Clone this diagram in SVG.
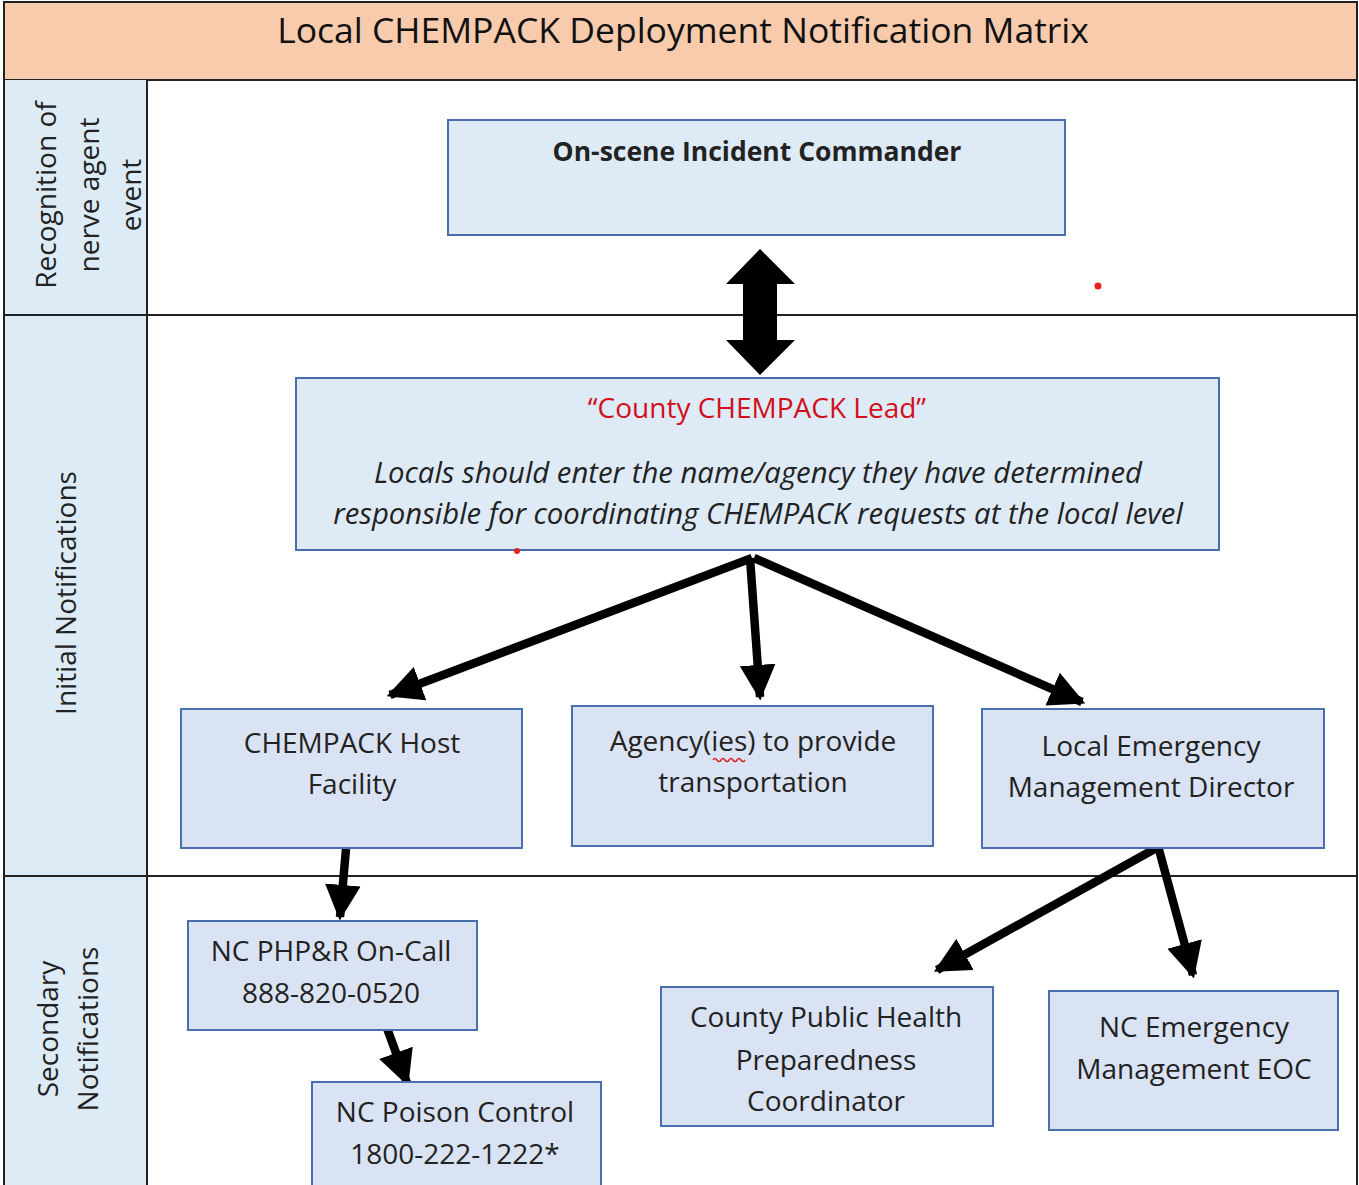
<svg xmlns="http://www.w3.org/2000/svg" width="1359" height="1185" viewBox="0 0 1359 1185">
<defs>
<style>
.t{font-family:"Open Sans","Noto Sans",Arial,sans-serif;font-size:28px;fill:#222;text-anchor:middle}
.lab{font-family:"Open Sans","Noto Sans",Arial,sans-serif;font-size:28px;fill:#222;text-anchor:middle}
.box{fill:#DAE3F3;stroke:#4A6FAE;stroke-width:2}
.boxl{fill:#DEEBF7;stroke:#4A6FAE;stroke-width:2}
.grid{stroke:#222;stroke-width:2;fill:none}
.arr{stroke:#000;stroke-width:8.5;fill:none;marker-end:url(#ah)}
</style>
<marker id="ah" viewBox="0 0 10 10" refX="9" refY="5" markerWidth="4.2" markerHeight="4.4" markerUnits="strokeWidth" orient="auto">
<path d="M0,0 L10,5 L0,10 Z" fill="#000"/>
</marker>
</defs>
<rect x="0" y="0" width="1359" height="1185" fill="#fff"/>
<g id="header">
<rect x="4" y="2" width="1353" height="78" fill="#F8CBAD" stroke="#222" stroke-width="2"/>
<text x="683" y="43" font-family="Open Sans,Noto Sans,Arial,sans-serif" font-size="35.5" fill="#111" text-anchor="middle">Local CHEMPACK Deployment Notification Matrix</text>
</g>
<g id="lanes">
<rect x="4" y="80" width="143" height="1105" fill="#DDEBF7"/>
<rect x="4" y="2" width="1353" height="1190" class="grid"/>
<line x1="147" y1="80" x2="147" y2="1185" class="grid"/>
<line x1="4" y1="315" x2="1357" y2="315" class="grid"/>
<line x1="4" y1="876" x2="1357" y2="876" class="grid"/>
</g>
<g id="lane-recognition">
<text class="lab" transform="translate(56,195) rotate(-90)">Recognition of</text>
<text class="lab" transform="translate(99,195) rotate(-90)">nerve agent</text>
<text class="lab" transform="translate(141,195) rotate(-90)">event</text>
</g>
<g id="lane-initial">
<text class="lab" transform="translate(76,593) rotate(-90)">Initial Notifications</text>
</g>
<g id="lane-secondary">
<text class="lab" transform="translate(58,1029) rotate(-90)">Secondary</text>
<text class="lab" transform="translate(98,1029) rotate(-90)">Notifications</text>
</g>
<g id="connectors">
<path d="M760,249 L795,284 L777,284 L777,340 L795,340 L760,375 L726,340 L743,340 L743,284 L726,284 Z" fill="#000"/>
<line x1="752" y1="558" x2="390" y2="695" class="arr"/>
<line x1="750" y1="558" x2="760" y2="697" class="arr"/>
<line x1="754" y1="558" x2="1082" y2="702" class="arr"/>
<line x1="346" y1="849" x2="340" y2="917" class="arr"/>
<line x1="384" y1="1020" x2="407" y2="1083" class="arr"/>
<line x1="1160" y1="846" x2="937" y2="970" class="arr"/>
<line x1="1158" y1="846" x2="1193" y2="975" class="arr"/>
</g>
<g id="n-commander">
<rect x="448" y="120" width="617" height="115" class="boxl"/>
<text class="t" x="757" y="161" font-weight="bold" style="font-size:26.5px">On-scene Incident Commander</text>
</g>
<g id="n-lead">
<rect x="296" y="378" width="923" height="172" class="boxl"/>
<text class="t" x="757" y="418" style="fill:#D0101A">“County CHEMPACK Lead”</text>
<text class="t" x="758" y="483" font-style="italic" style="font-size:29.3px">Locals should enter the name/agency they have determined</text>
<text class="t" x="758" y="524" font-style="italic" style="font-size:29.3px">responsible for coordinating CHEMPACK requests at the local level</text>
</g>
<g id="n-host">
<rect x="181" y="709" width="341" height="139" class="box"/>
<text class="t" x="352" y="753">CHEMPACK Host</text>
<text class="t" x="352" y="794">Facility</text>
</g>
<g id="n-agency">
<rect x="572" y="706" width="361" height="140" class="box"/>
<text class="t" x="753" y="751">Agency(ies) to provide</text>
<text class="t" x="753" y="792">transportation</text>
<path d="M713,760 q2,-3 4,0 t4,0 t4,0 t4,0 t4,0 t4,0 t4,0 t4,0" stroke="#E02020" stroke-width="1.5" fill="none"/>
</g>
<g id="n-emdirector">
<rect x="982" y="709" width="342" height="139" class="box"/>
<text class="t" x="1151" y="756">Local Emergency</text>
<text class="t" x="1151" y="797">Management Director</text>
</g>
<g id="n-phpr">
<rect x="188" y="921" width="289" height="109" class="box"/>
<text class="t" x="331" y="961">NC PHP&amp;R On-Call</text>
<text class="t" x="331" y="1003">888-820-0520</text>
</g>
<g id="n-poison">
<rect x="312" y="1082" width="289" height="110" class="box"/>
<text class="t" x="455" y="1122">NC Poison Control</text>
<text class="t" x="455" y="1164">1800-222-1222*</text>
</g>
<g id="n-countyph">
<rect x="661" y="987" width="332" height="139" class="box"/>
<text class="t" x="826" y="1027">County Public Health</text>
<text class="t" x="826" y="1070">Preparedness</text>
<text class="t" x="826" y="1111">Coordinator</text>
</g>
<g id="n-eoc">
<rect x="1049" y="991" width="289" height="139" class="box"/>
<text class="t" x="1194" y="1037">NC Emergency</text>
<text class="t" x="1194" y="1079">Management EOC</text>
</g>
<g id="marks">
<circle cx="1098" cy="286" r="3.5" fill="#E52020"/>
<circle cx="517" cy="551" r="3" fill="#E52020"/>
</g>
</svg>
